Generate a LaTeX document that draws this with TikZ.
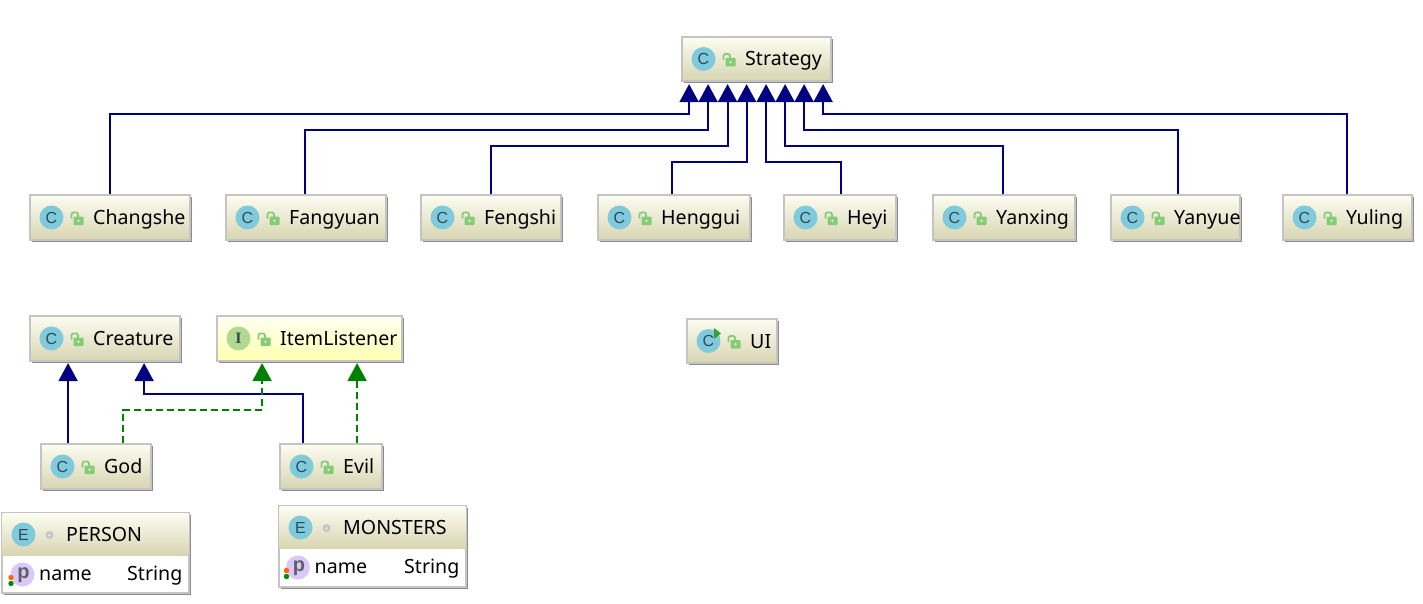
\documentclass[tikz,border=0pt]{standalone}
\usepackage{fontspec}
\setmainfont{Noto Sans}
\newfontfamily\iconfont{Liberation Sans}
\newfontfamily\iconserif{Liberation Serif}
\usetikzlibrary{arrows.meta}
\definecolor{edgegray}{HTML}{C4C4C4}
\definecolor{shadowgray}{HTML}{8C8C8C}
\definecolor{classtop}{HTML}{FDFDF2}
\definecolor{classbot}{HTML}{D8D5B2}
\definecolor{ifacetop}{HTML}{FFFFF2}
\definecolor{ifacebot}{HTML}{FFFFB0}
\definecolor{iconblue}{HTML}{7FCADB}
\definecolor{icongreen}{HTML}{B2D992}
\definecolor{iconpurple}{HTML}{D9C9FA}
\definecolor{lockgreen}{HTML}{86CC76}
\definecolor{inkgray}{HTML}{2F4A58}
\definecolor{arrownavy}{HTML}{000080}
\definecolor{arrowgreen}{HTML}{008000}
\tikzset{
  x=1pt,y=-1pt,
  umlbox/.style={draw=edgegray,line width=1.2pt,inner sep=0pt,rectangle},
  classfill/.style={top color=classtop,bottom color=classbot},
  ifacefill/.style={top color=ifacetop,bottom color=ifacebot},
  umltext/.style={anchor=base west,inner sep=0pt,text=black,font=\fontsize{19.6}{22}\selectfont},
  iconletter/.style={inner sep=0pt,text=inkgray,font=\iconfont\fontsize{16}{16}\selectfont},
  extends/.style={draw=arrownavy,line width=2pt,-{Triangle[width=19pt,length=18pt,fill=arrownavy]}},
  implements/.style={draw=arrowgreen,line width=2pt,dash pattern=on 7pt off 4pt,-{Triangle[width=19pt,length=18pt,fill=arrowgreen]}},
}
% lock icon, relative to centre line
\newcommand{\lockicon}[2]{%
  \draw[lockgreen,line width=1.8pt,rounded corners=2pt] ({#1+.5},{#2+1}) -- ({#1+.5},{#2-5}) -- ({#1+7},{#2-5}) -- ({#1+7},{#2});
  \fill[lockgreen,rounded corners=.8pt] ({#1+2.5},{#2-1}) rectangle ({#1+12.5},{#2+7.5});
  \fill[white] ({#1+7.5},{#2+3.2}) circle (1.1pt);}
% name, x1, y1, x2, y2, fill, icon colour, letter, text
\newcommand{\umlclass}[9]{%
  \fill[shadowgray] ({#2+2},{#3+2}) rectangle ({#4+2},{#5+2});
  \node[umlbox,#6,minimum width=#4-#2,minimum height=#5-#3] (#1) at ({(#2+#4)/2},{(#3+#5)/2}) {};
  \fill[#7] ({#2+21.5},{(#3+#5)/2}) circle (12);
  \node[iconletter] (#1-icon) at ({#2+21.5},{(#3+#5)/2}) {#8};
  \lockicon{#2+41}{(#3+#5)/2}
  \node[umltext] (#1-name) at ({#2+63},{(#3+#5)/2+7}) {#9};}
% name, x1, y1, x2, y-div, y2, title, row shift
\newcommand{\umlenum}[8]{%
  \fill[shadowgray] ({#2+2},{#3+2}) rectangle ({#4+2},{#6+2});
  \node[umlbox,fill=white,minimum width=#4-#2,minimum height=#6-#3] (#1) at ({(#2+#4)/2},{(#3+#6)/2}) {};
  \shade[classfill] ({#2+.6},{#3+.6}) rectangle ({#4-.6},{#5});
  \fill[iconblue] ({#2+21.5},{#3+21.5}) circle (12);
  \node[iconletter] (#1-icon) at ({#2+21.5},{#3+21.5}) {E};
  \fill[edgegray] ({#2+47.5},{#3+22}) circle (4);
  \fill[white!80!gray] ({#2+47.5},{#3+22}) circle (1.5);
  \node[umltext] (#1-name) at ({#2+64},{#3+28}) {#7};
  \fill[iconpurple] ({#2+20.5+#8},{#5+19.5}) circle (12);
  \node[inner sep=0pt,text=black!62,font=\iconfont\bfseries\fontsize{20}{20}\selectfont] (#1-icon2) at ({#2+21.5+#8},{#5+20.5}) {p};
  \fill[orange!80!red] ({#2+9+#8},{#5+22.5}) circle (2.7);
  \fill[green!55!black] ({#2+9+#8},{#5+28.5}) circle (2.7);
  \node[umltext] (#1-prop) at ({#2+37+#8},{#5+25}) {name};
  \node[umltext] (#1-type) at ({#2+125},{#5+25}) {String};}
\begin{document}
\begin{tikzpicture}
\useasboundingbox (0,0) rectangle (1423,604);
\fill[white] (0,0) rectangle (1423,604);
\umlclass{strategy}{682}{37}{831}{81}{classfill}{iconblue}{C}{Strategy}
\umlclass{changshe}{30}{195}{190}{240}{classfill}{iconblue}{C}{Changshe}
\umlclass{fangyuan}{226}{195}{386}{240}{classfill}{iconblue}{C}{Fangyuan}
\umlclass{fengshi}{421}{195}{561}{240}{classfill}{iconblue}{C}{Fengshi}
\umlclass{henggui}{598}{195}{750}{240}{classfill}{iconblue}{C}{Henggui}
\umlclass{heyi}{784}{195}{896}{240}{classfill}{iconblue}{C}{Heyi}
\umlclass{yanxing}{933}{195}{1075}{240}{classfill}{iconblue}{C}{Yanxing}
\umlclass{yanyue}{1111}{195}{1240}{240}{classfill}{iconblue}{C}{Yanyue}
\umlclass{yuling}{1283}{195}{1412}{240}{classfill}{iconblue}{C}{Yuling}
\umlclass{creature}{30}{316}{180}{361}{classfill}{iconblue}{C}{Creature}
\umlclass{itemlistener}{217}{316}{402}{361}{ifacefill}{icongreen}{\iconserif\bfseries I}{ItemListener}
\umlclass{ui}{687}{319}{777}{363}{classfill}{iconblue}{C}{UI}
\fill[green!55!black!80] (714,328) -- (721,333.5) -- (714,339) -- cycle;
\umlclass{god}{41}{444}{151}{489}{classfill}{iconblue}{C}{God}
\umlclass{evil}{280}{444}{382}{489}{classfill}{iconblue}{C}{Evil}
\umlenum{person}{2}{513}{189}{555}{593}{PERSON}{0}
\umlenum{monsters}{279}{506}{466}{548}{587}{MONSTERS}{-1.5}
% tips under Strategy
\coordinate (t1) at ([xshift=7.7pt,yshift=-2.5pt]strategy.south west);
\coordinate (t2) at ([xshift=26.7pt,yshift=-2.5pt]strategy.south west);
\coordinate (t3) at ([xshift=46.2pt,yshift=-2.5pt]strategy.south west);
\coordinate (t4) at ([xshift=65.2pt,yshift=-2.5pt]strategy.south west);
\coordinate (t5) at ([xshift=84.7pt,yshift=-2.5pt]strategy.south west);
\coordinate (t6) at ([xshift=103.7pt,yshift=-2.5pt]strategy.south west);
\coordinate (t7) at ([xshift=122.7pt,yshift=-2.5pt]strategy.south west);
\coordinate (t8) at ([xshift=141.7pt,yshift=-2.5pt]strategy.south west);
\draw[extends] ([xshift=80.7pt]changshe.north west) |- ([yshift=-29.7pt]t1) -- (t1);
\draw[extends] ([xshift=79.7pt]fangyuan.north west) |- ([yshift=-45.7pt]t2) -- (t2);
\draw[extends] ([xshift=70.7pt]fengshi.north west) |- ([yshift=-61.7pt]t3) -- (t3);
\draw[extends] ([xshift=74.7pt]henggui.north west) |- ([yshift=-77.7pt]t4) -- (t4);
\draw[extends] ([xshift=57.7pt]heyi.north west) |- ([yshift=-77.7pt]t5) -- (t5);
\draw[extends] ([xshift=70.7pt]yanxing.north west) |- ([yshift=-61.7pt]t6) -- (t6);
\draw[extends] ([xshift=67.7pt]yanyue.north west) |- ([yshift=-45.7pt]t7) -- (t7);
\draw[extends] ([xshift=64.7pt]yuling.north west) |- ([yshift=-29.7pt]t8) -- (t8);
% lower group
\coordinate (c1) at ([xshift=38.7pt,yshift=-1.5pt]creature.south west);
\coordinate (c2) at ([xshift=114.7pt,yshift=-1.5pt]creature.south west);
\coordinate (i1) at ([xshift=45.7pt,yshift=-1.5pt]itemlistener.south west);
\coordinate (i2) at ([xshift=140.7pt,yshift=-1.5pt]itemlistener.south west);
\draw[extends] ([xshift=27.7pt]god.north west) -- (c1);
\draw[extends] ([xshift=23.7pt]evil.north west) |- ([yshift=-30.7pt]c2) -- (c2);
\draw[implements] ([xshift=82.7pt]god.north west) |- ([yshift=-46.7pt]i1) -- (i1);
\draw[implements] ([xshift=77.7pt]evil.north west) -- (i2);
\end{tikzpicture}
\end{document}
